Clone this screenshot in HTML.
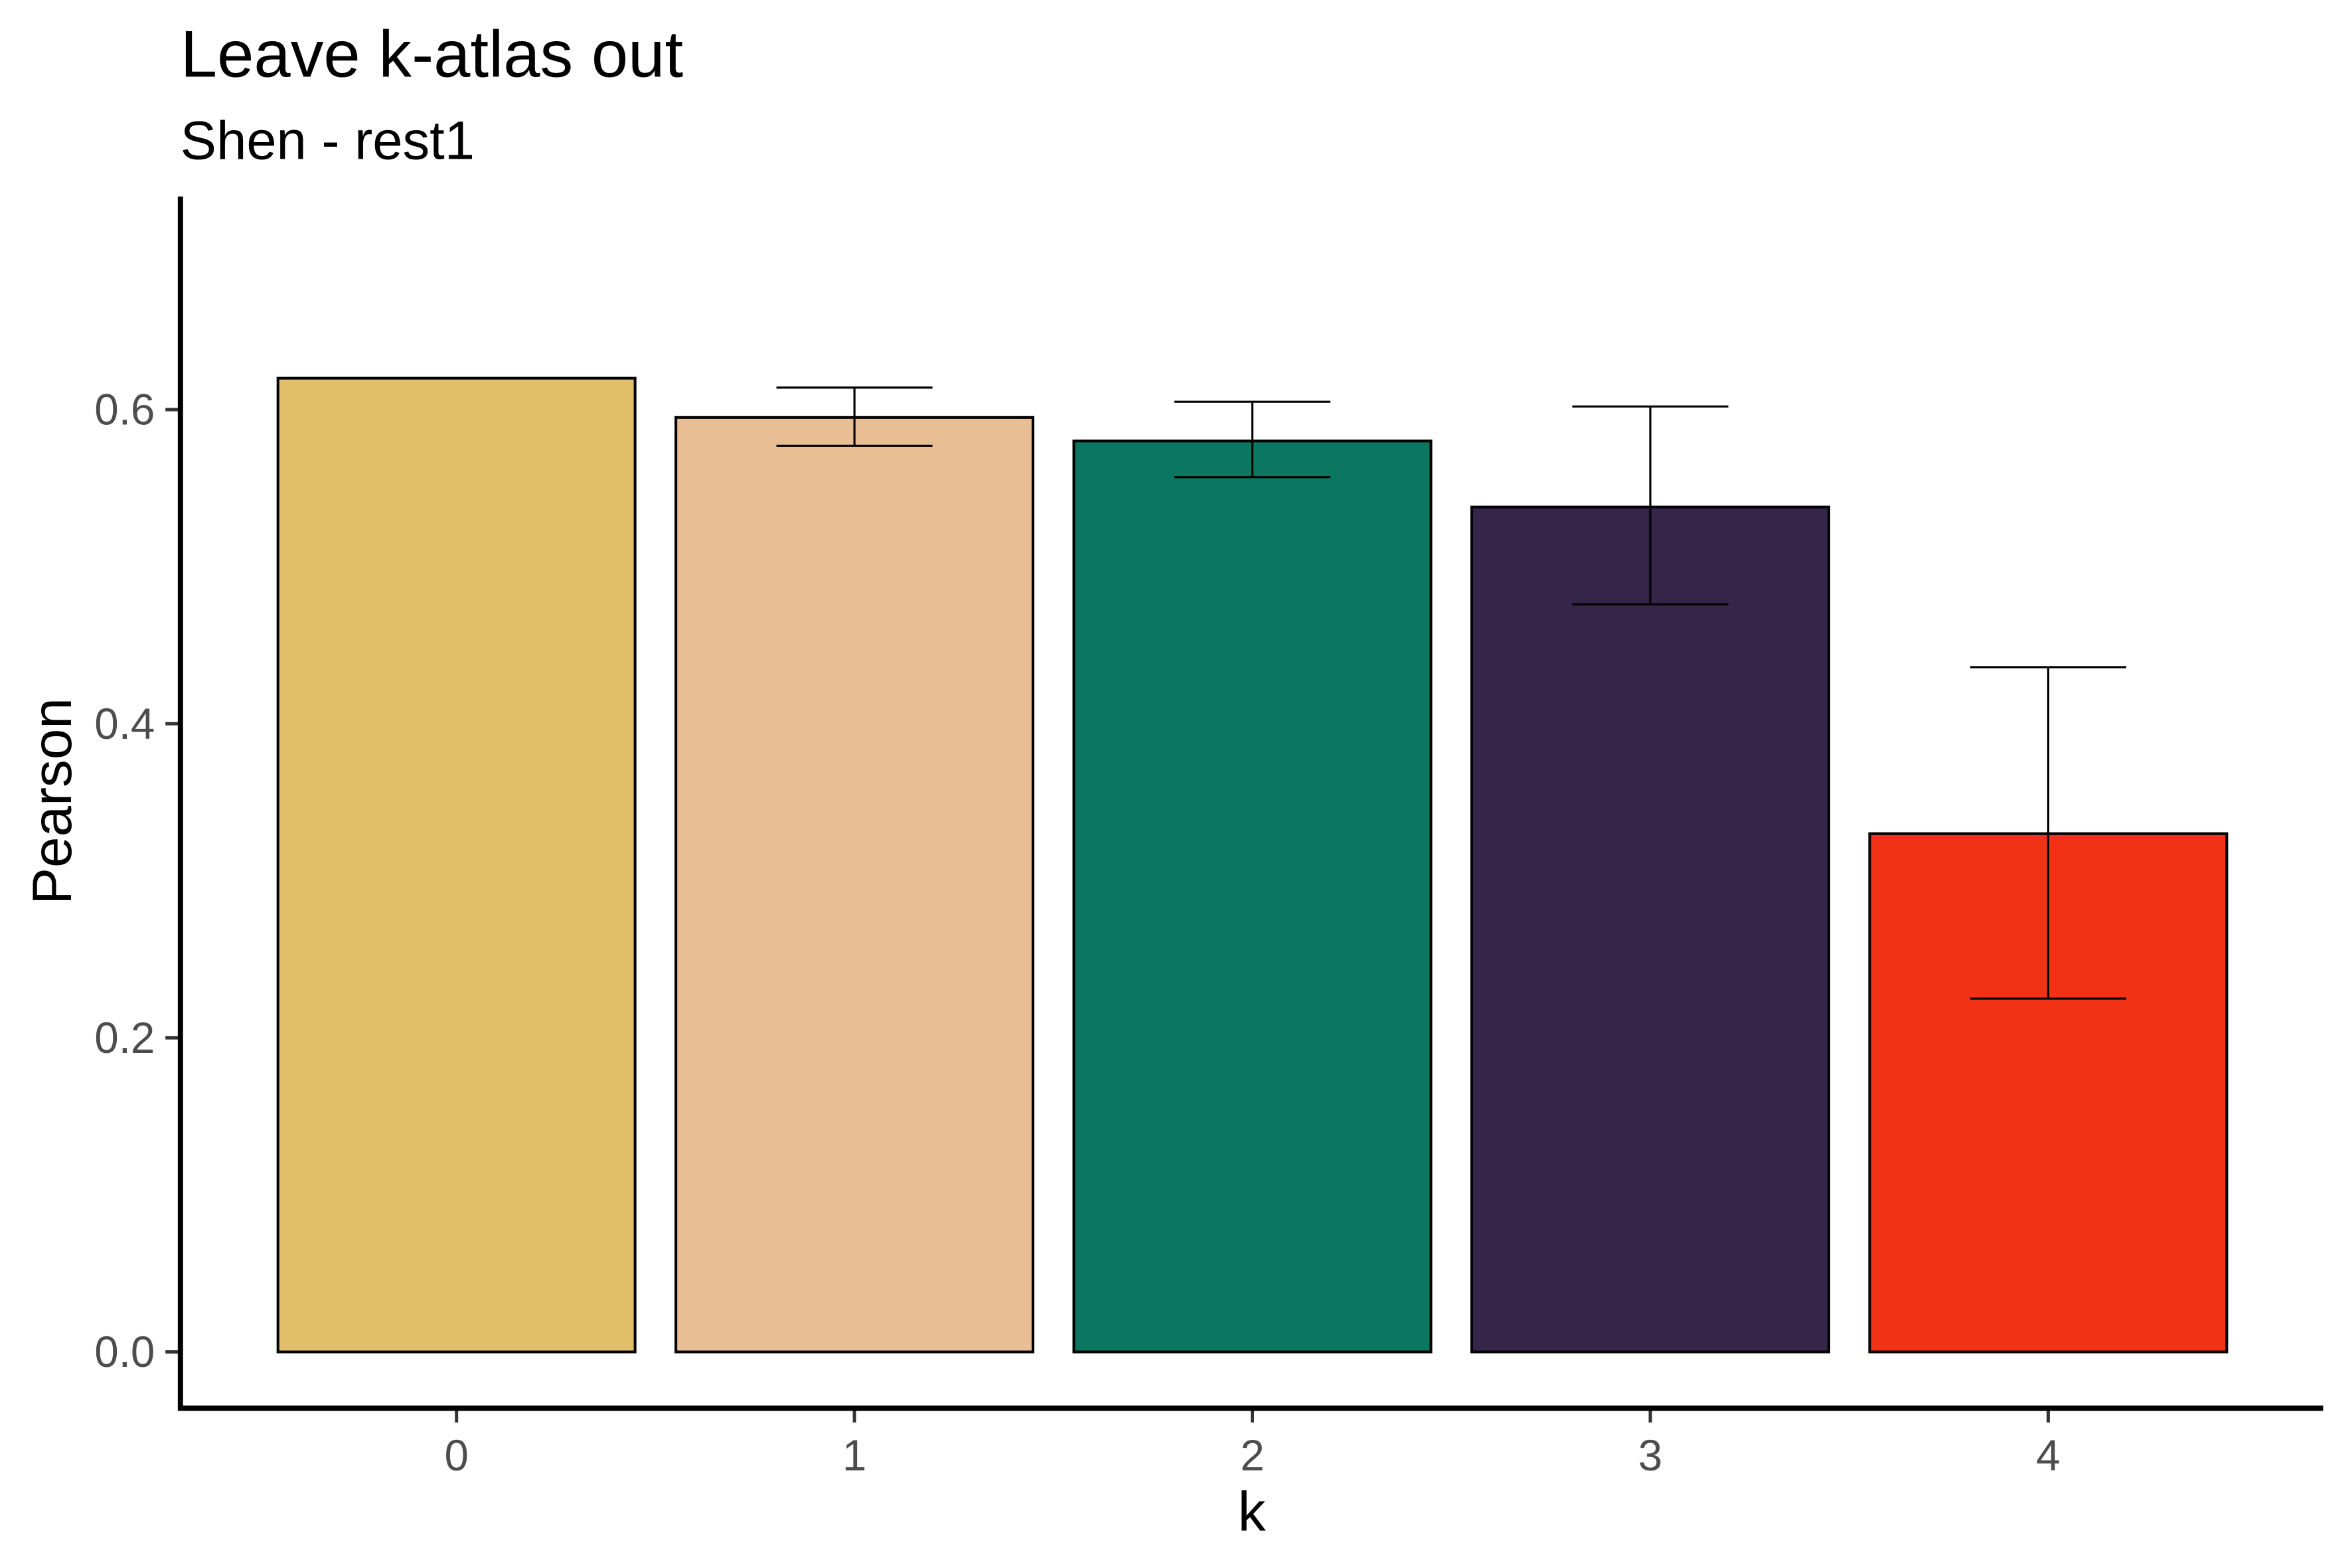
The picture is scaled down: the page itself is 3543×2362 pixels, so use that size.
<!DOCTYPE html>
<html><head><meta charset="utf-8"><style>html,body{margin:0;padding:0;background:#fff}svg{display:block}</style></head>
<body>
<svg width="3543" height="2362" viewBox="0 0 1567 1045" xmlns="http://www.w3.org/2000/svg" font-family="Liberation Sans, Arial, sans-serif">
<rect width="1567" height="1045" fill="#fff"/>
<text x="120" y="51" font-size="44" fill="#000">Leave k-atlas out</text>
<text x="120" y="106" font-size="36" fill="#000">Shen - rest1</text>
<g id="plot"></g>
<text x="834" y="1020" font-size="37" text-anchor="middle">k</text>
<text transform="translate(47,534) rotate(-90)" font-size="37" text-anchor="middle">Pearson</text>
</svg>
<script>
const categories = ["0","1","2","3","4"];
const values = [0.620, 0.595, 0.580, 0.538, 0.330];
const errLow = [null, 0.577, 0.557, 0.476, 0.225];
const errHigh = [null, 0.614, 0.605, 0.602, 0.436];
const colors = ["#E1BE6A","#E9BE95","#0C7760","#352548","#F23214"];
const yTicks = [0, 0.2, 0.4, 0.6];
const yTickLabels = ["0.0","0.2","0.4","0.6"];

const NS = "http://www.w3.org/2000/svg";
const g = document.getElementById("plot");
const y = v => 901 - v * 1046.7;
const band = 265.2;
const x = i => 304 + i * band;
const barW = 238, errW = 104;
function mk(tag, attrs){const e=document.createElementNS(NS,tag);for(const k in attrs)e.setAttribute(k,attrs[k]);g.appendChild(e);return e;}

categories.forEach((c,i)=>{
  const r = mk("rect",{x:x(i)-barW/2,y:y(values[i]),width:barW,height:y(0)-y(values[i]),fill:colors[i],stroke:"#000","stroke-width":1.8});
  
  
  if(errLow[i]!==null){
    const eg = mk("path",{d:`M${x(i)-errW/2},${y(errHigh[i])}H${x(i)+errW/2}M${x(i)},${y(errHigh[i])}V${y(errLow[i])}M${x(i)-errW/2},${y(errLow[i])}H${x(i)+errW/2}`,stroke:"#000","stroke-width":1.4,fill:"none"});
    
    
  }
  const t = mk("path",{d:`M${x(i)},938V948`,stroke:"#333","stroke-width":2.2});
  
  
  const l = mk("text",{x:x(i),y:980,"font-size":29,fill:"#4d4d4d","text-anchor":"middle"});
  l.textContent = c;
  
  
});
yTicks.forEach((v,i)=>{
  const t = mk("path",{d:`M110,${y(v)}H120`,stroke:"#333","stroke-width":2.2});
  
  
  const l = mk("text",{x:103,y:y(v)+10,"font-size":29,fill:"#4d4d4d","text-anchor":"end"});
  l.textContent = yTickLabels[i];
  
  
});
const ya = mk("path",{d:"M120,131V940",stroke:"#000","stroke-width":3.5});


const xa = mk("path",{d:"M118.3,938.5H1548",stroke:"#000","stroke-width":3.5});


</script>
</body></html>
